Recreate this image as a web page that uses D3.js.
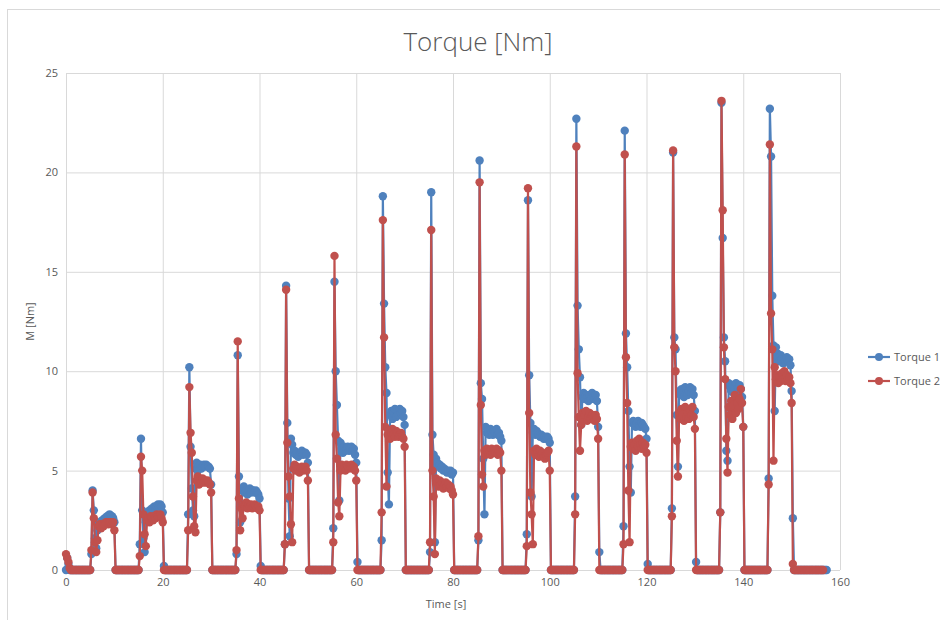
<!DOCTYPE html>
<html lang="en">
<head>
    <meta charset="UTF-8">
    <title>Torque [Nm]</title>
    <script src="https://d3js.org/d3.v7.min.js"></script>
    <style>
        body { margin: 0; background: #fff; }
        text { font-family: "Open Sans", sans-serif; fill: #595959; }
    </style>
</head>
<body>
    <div id="chart"></div>
    <script>
        // samples are 0.25 s apart, first sample at t = 0
        const sampleStep = 0.25;
        const seriesNames = ["Torque 1", "Torque 2"];
        const seriesColors = ["#4f81bd", "#c0504d"];
        const xTicks = [0, 20, 40, 60, 80, 100, 120, 140, 160];
        const yTicks = [0, 5, 10, 15, 20, 25];

        const torque1 = [
            0, 0.6, 0.3, 0, 0, 0, 0, 0, 0, 0, 0, 0, 0, 0, 0, 0, 0, 0, 0, 0, 0,
            0.8, 4.0, 3.0, 1.6, 1.1, 2.0, 2.3, 2.4, 2.3, 2.5, 2.5, 2.6, 2.6, 2.7, 2.7, 2.8, 2.7, 2.7, 2.6, 2.4,
            0, 0, 0, 0, 0, 0, 0, 0, 0, 0, 0, 0, 0, 0, 0, 0, 0, 0, 0, 0,
            1.3, 6.6, 3.0, 1.6, 0.9, 2.4, 2.9, 2.8, 3.0, 2.9, 3.1, 3.0, 3.2, 3.1, 3.2, 3.3, 3.2, 3.3, 3.2, 2.9,
            0.2, 0, 0, 0, 0, 0, 0, 0, 0, 0, 0, 0, 0, 0, 0, 0, 0, 0, 0, 0,
            2.8, 10.2, 6.2, 4.1, 3.0, 2.7, 5.1, 5.4, 5.0, 5.2, 5.3, 5.1, 5.2, 5.3, 5.2, 5.3, 5.2, 5.2, 5.1, 4.3,
            0, 0, 0, 0, 0, 0, 0, 0, 0, 0, 0, 0, 0, 0, 0, 0, 0, 0, 0, 0,
            0.8, 10.8, 4.7, 2.4, 3.3, 4.0, 4.2, 3.9, 4.0, 3.8, 4.0, 4.1, 3.9, 4.0, 4.0, 3.9, 4.0, 3.9, 3.8, 3.6,
            0.2, 0, 0, 0, 0, 0, 0, 0, 0, 0, 0, 0, 0, 0, 0, 0, 0, 0, 0, 0,
            1.3, 14.3, 7.4, 3.6, 1.7, 6.6, 6.3, 5.9, 6.0, 5.8, 5.9, 5.7, 5.8, 5.9, 6.0, 5.8, 5.9, 5.9, 5.8, 5.4,
            0, 0, 0, 0, 0, 0, 0, 0, 0, 0, 0, 0, 0, 0, 0, 0, 0, 0, 0, 0,
            2.1, 14.5, 10.0, 8.3, 6.5, 3.5, 6.4, 6.1, 5.9, 6.2, 6.0, 6.1, 6.2, 6.0, 6.1, 6.2, 6.0, 6.1, 5.8, 5.4,
            0.4, 0, 0, 0, 0, 0, 0, 0, 0, 0, 0, 0, 0, 0, 0, 0, 0, 0, 0, 0,
            1.5, 18.8, 13.4, 10.2, 8.9, 4.9, 3.3, 7.8, 8.0, 7.6, 7.9, 8.1, 7.7, 8.0, 7.8, 8.1, 7.9, 8.0, 7.7, 7.3,
            0, 0, 0, 0, 0, 0, 0, 0, 0, 0, 0, 0, 0, 0, 0, 0, 0, 0, 0, 0,
            0.9, 19.0, 6.8, 5.8, 1.4, 5.6, 5.4, 5.2, 5.3, 5.1, 5.2, 5.0, 5.1, 5.0, 4.9, 5.0, 4.9, 5.0, 4.8, 4.9,
            0, 0, 0, 0, 0, 0, 0, 0, 0, 0, 0, 0, 0, 0, 0, 0, 0, 0, 0, 0,
            1.5, 20.6, 9.4, 8.6, 5.6, 2.8, 7.2, 6.9, 7.0, 6.8, 7.1, 6.9, 6.8, 7.0, 6.9, 7.1, 6.8, 6.9, 6.7, 6.5,
            0, 0, 0, 0, 0, 0, 0, 0, 0, 0, 0, 0, 0, 0, 0, 0, 0, 0, 0, 0,
            1.8, 18.6, 9.8, 7.4, 3.7, 6.9, 7.1, 6.8, 7.0, 6.9, 6.8, 6.7, 6.8, 6.7, 6.6, 6.7, 6.6, 6.7, 6.6, 6.4,
            0, 0, 0, 0, 0, 0, 0, 0, 0, 0, 0, 0, 0, 0, 0, 0, 0, 0, 0, 0,
            3.7, 22.7, 13.3, 11.1, 9.7, 7.3, 8.7, 8.9, 8.6, 8.8, 8.7, 8.5, 8.8, 8.6, 8.9, 8.7, 8.6, 8.8, 8.5, 7.2,
            0.9, 0, 0, 0, 0, 0, 0, 0, 0, 0, 0, 0, 0, 0, 0, 0, 0, 0, 0, 0,
            2.2, 22.1, 11.9, 10.2, 8.0, 5.2, 3.9, 7.4, 7.5, 7.3, 7.2, 7.4, 7.5, 7.3, 7.2, 7.4, 7.3, 7.2, 7.1, 6.6,
            0.3, 0, 0, 0, 0, 0, 0, 0, 0, 0, 0, 0, 0, 0, 0, 0, 0, 0, 0, 0,
            3.1, 21.0, 11.7, 11.1, 7.8, 5.2, 9.0, 8.8, 9.1, 8.9, 8.7, 9.2, 8.9, 8.8, 9.0, 9.2, 8.9, 9.1, 8.8, 8.0,
            0.4, 0, 0, 0, 0, 0, 0, 0, 0, 0, 0, 0, 0, 0, 0, 0, 0, 0, 0, 0,
            2.9, 23.5, 16.7, 11.7, 10.5, 6.0, 5.5, 9.4, 9.2, 9.0, 9.3, 8.9, 9.1, 9.4, 9.0, 9.2, 9.3, 9.1, 8.7, 7.2,
            0, 0, 0, 0, 0, 0, 0, 0, 0, 0, 0, 0, 0, 0, 0, 0, 0, 0, 0, 0,
            4.6, 23.2, 20.8, 13.8, 11.3, 8.0, 11.2, 10.9, 10.7, 10.5, 10.8, 10.6, 10.4, 10.6, 10.5, 10.7, 10.5, 10.6, 10.3, 9.0,
            2.6, 0, 0, 0, 0, 0, 0, 0, 0, 0, 0, 0, 0, 0, 0, 0, 0, 0, 0, 0, 0, 0, 0, 0, 0, 0, 0, 0, 0
        ];

        const torque2 = [
            0.8, 0.6, 0.4, 0.1, 0, 0, 0, 0, 0, 0, 0, 0, 0, 0, 0, 0, 0, 0, 0, 0, 0,
            1.0, 3.9, 2.6, 1.4, 0.9, 1.5, 2.2, 2.3, 2.1, 2.3, 2.2, 2.3, 2.4, 2.4, 2.3, 2.4, 2.4, 2.3, 2.4, 2.0,
            0, 0, 0, 0, 0, 0, 0, 0, 0, 0, 0, 0, 0, 0, 0, 0, 0, 0, 0, 0,
            0.7, 5.7, 5.0, 2.8, 1.8, 1.2, 2.5, 2.6, 2.4, 2.7, 2.6, 2.5, 2.7, 2.6, 2.8, 2.7, 2.7, 2.8, 2.6, 2.4,
            0, 0, 0, 0, 0, 0, 0, 0, 0, 0, 0, 0, 0, 0, 0, 0, 0, 0, 0, 0,
            2.0, 9.2, 6.9, 5.9, 3.7, 2.2, 1.9, 4.5, 4.7, 4.3, 4.5, 4.4, 4.6, 4.4, 4.5, 4.4, 4.5, 4.4, 4.3, 3.9,
            0, 0, 0, 0, 0, 0, 0, 0, 0, 0, 0, 0, 0, 0, 0, 0, 0, 0, 0, 0,
            1.0, 11.5, 3.6, 2.0, 3.1, 2.6, 3.3, 3.2, 3.4, 3.1, 3.3, 3.2, 3.3, 3.1, 3.2, 3.3, 3.2, 3.1, 3.2, 3.0,
            0, 0, 0, 0, 0, 0, 0, 0, 0, 0, 0, 0, 0, 0, 0, 0, 0, 0, 0, 0,
            1.3, 14.1, 6.4, 4.7, 3.7, 2.3, 1.4, 5.1, 5.3, 5.0, 5.2, 5.1, 4.9, 5.1, 5.2, 5.0, 5.1, 5.2, 5.0, 4.5,
            0, 0, 0, 0, 0, 0, 0, 0, 0, 0, 0, 0, 0, 0, 0, 0, 0, 0, 0, 0,
            1.4, 15.8, 6.8, 5.6, 3.4, 2.7, 5.0, 5.3, 5.1, 5.2, 5.0, 5.3, 5.2, 5.1, 5.2, 5.3, 5.1, 5.2, 5.0, 4.5,
            0, 0, 0, 0, 0, 0, 0, 0, 0, 0, 0, 0, 0, 0, 0, 0, 0, 0, 0, 0,
            2.9, 17.6, 11.7, 7.2, 4.2, 6.8, 7.0, 6.6, 6.9, 7.1, 6.8, 6.7, 7.0, 6.9, 6.7, 6.8, 6.9, 6.7, 6.6, 6.2,
            0, 0, 0, 0, 0, 0, 0, 0, 0, 0, 0, 0, 0, 0, 0, 0, 0, 0, 0, 0,
            1.4, 17.1, 5.0, 3.7, 0.8, 4.6, 4.4, 4.2, 4.5, 4.3, 4.4, 4.1, 4.3, 4.4, 4.2, 4.3, 4.1, 4.2, 4.0, 3.8,
            0, 0, 0, 0, 0, 0, 0, 0, 0, 0, 0, 0, 0, 0, 0, 0, 0, 0, 0, 0,
            1.7, 19.5, 8.3, 4.8, 4.2, 6.0, 5.8, 6.1, 5.9, 6.0, 5.8, 6.1, 5.9, 6.0, 5.9, 6.1, 5.8, 6.0, 5.9, 5.0,
            0, 0, 0, 0, 0, 0, 0, 0, 0, 0, 0, 0, 0, 0, 0, 0, 0, 0, 0, 0,
            1.2, 19.2, 7.9, 3.9, 2.8, 1.3, 6.0, 5.8, 6.1, 5.9, 5.7, 6.0, 5.8, 5.9, 5.7, 5.6, 5.8, 5.9, 6.0, 5.0,
            0, 0, 0, 0, 0, 0, 0, 0, 0, 0, 0, 0, 0, 0, 0, 0, 0, 0, 0, 0,
            2.8, 21.3, 9.9, 7.7, 6.0, 7.3, 7.9, 7.6, 7.8, 8.0, 7.5, 7.7, 7.9, 7.6, 7.8, 7.7, 7.5, 7.8, 7.6, 6.6,
            0, 0, 0, 0, 0, 0, 0, 0, 0, 0, 0, 0, 0, 0, 0, 0, 0, 0, 0, 0,
            1.3, 20.9, 10.7, 8.4, 4.0, 1.4, 6.2, 6.4, 6.1, 6.3, 6.0, 6.5, 6.2, 6.6, 6.3, 6.1, 6.4, 6.2, 6.3, 5.9,
            0, 0, 0, 0, 0, 0, 0, 0, 0, 0, 0, 0, 0, 0, 0, 0, 0, 0, 0, 0,
            2.7, 21.1, 11.2, 10.0, 6.5, 4.7, 7.9, 7.6, 8.1, 7.8, 7.5, 8.2, 7.7, 7.9, 7.6, 8.0, 7.8, 8.2, 7.7, 7.1,
            0, 0, 0, 0, 0, 0, 0, 0, 0, 0, 0, 0, 0, 0, 0, 0, 0, 0, 0, 0,
            2.9, 23.6, 18.1, 11.2, 9.6, 6.6, 4.9, 8.2, 7.8, 8.5, 7.6, 8.3, 8.8, 7.9, 8.4, 8.1, 8.6, 9.1, 8.4, 7.2,
            0, 0, 0, 0, 0, 0, 0, 0, 0, 0, 0, 0, 0, 0, 0, 0, 0, 0, 0, 0,
            4.3, 21.4, 12.9, 11.1, 5.5, 10.2, 9.6, 9.8, 9.4, 9.7, 9.5, 9.9, 9.6, 10.0, 9.5, 9.8, 9.6, 9.7, 9.4, 8.4,
            0.3, 0, 0, 0, 0, 0, 0, 0, 0, 0, 0, 0, 0, 0, 0, 0, 0, 0, 0, 0, 0, 0, 0, 0, 0, 0
        ];

        const series = [torque1, torque2];

        const width = 940, height = 620;
        const plot = {left: 66, right: 840, top: 73, bottom: 570};

        const svg = d3.select("#chart")
            .append("svg")
            .attr("width", width)
            .attr("height", height);

        // chart frame
        svg.append("rect")
            .attr("x", 7.5).attr("y", 9.5)
            .attr("width", width).attr("height", height)
            .attr("fill", "#fff")
            .attr("stroke", "#d9d9d9");

        const x = d3.scaleLinear().domain([0, 160]).range([plot.left, plot.right]);
        const y = d3.scaleLinear().domain([0, 25]).range([plot.bottom, plot.top]);

        // gridlines
        svg.append("g")
            .attr("transform", `translate(0,${plot.bottom})`)
            .call(d3.axisBottom(x).tickValues(xTicks).tickSize(-(plot.bottom - plot.top)).tickFormat(""))
            .call(g => g.select(".domain").remove())
            .call(g => g.selectAll("line").attr("stroke", "#d9d9d9"));

        svg.append("g")
            .attr("transform", `translate(${plot.left},0)`)
            .call(d3.axisLeft(y).tickValues(yTicks).tickSize(-(plot.right - plot.left)).tickFormat(""))
            .call(g => g.select(".domain").remove())
            .call(g => g.selectAll("line").attr("stroke", "#d9d9d9"));

        // tick labels
        svg.append("g")
            .attr("transform", `translate(0,${plot.bottom + 8})`)
            .call(d3.axisBottom(x).tickValues(xTicks).tickSize(0).tickPadding(0))
            .call(g => g.select(".domain").remove())
            .call(g => g.selectAll("text").attr("font-size", 11).attr("fill", "#595959")
                .attr("font-family", "'Open Sans', sans-serif"));

        svg.append("g")
            .attr("transform", `translate(${plot.left - 8},0)`)
            .call(d3.axisLeft(y).tickValues(yTicks).tickSize(0).tickPadding(0))
            .call(g => g.select(".domain").remove())
            .call(g => g.selectAll("text").attr("font-size", 11).attr("fill", "#595959")
                .attr("font-family", "'Open Sans', sans-serif"));

        // titles
        svg.append("text")
            .attr("x", 478).attr("y", 51)
            .attr("text-anchor", "middle")
            .attr("font-size", 26)
            .attr("font-weight", 300)
            .text("Torque [Nm]");

        svg.append("text")
            .attr("x", 446).attr("y", 608)
            .attr("text-anchor", "middle")
            .attr("font-size", 11)
            .text("Time [s]");

        svg.append("text")
            .attr("transform", `translate(34,${(plot.top + plot.bottom) / 2}) rotate(-90)`)
            .attr("text-anchor", "middle")
            .attr("font-size", 11)
            .text("M [Nm]");

        // series
        const line = d3.line()
            .x((d, i) => x(i * sampleStep))
            .y(d => y(d));

        series.forEach((values, s) => {
            const g = svg.append("g");
            g.append("path")
                .datum(values)
                .attr("d", line)
                .attr("fill", "none")
                .attr("stroke", seriesColors[s])
                .attr("stroke-width", 2.2);
            g.selectAll("circle")
                .data(values)
                .join("circle")
                .attr("cx", (d, i) => x(i * sampleStep))
                .attr("cy", d => y(d))
                .attr("r", 4.2)
                .attr("fill", seriesColors[s]);
        });

        // legend
        const legend = svg.append("g")
            .selectAll("g")
            .data(seriesNames)
            .join("g")
            .attr("transform", (d, i) => `translate(868,${357 + i * 24})`);

        legend.append("line")
            .attr("x1", 0).attr("x2", 22)
            .attr("stroke", (d, i) => seriesColors[i])
            .attr("stroke-width", 2.2);
        legend.append("circle")
            .attr("cx", 11).attr("r", 4)
            .attr("fill", (d, i) => seriesColors[i]);
        legend.append("text")
            .attr("x", 26).attr("dy", "0.35em")
            .attr("font-size", 11)
            .text(d => d);
    </script>
</body>
</html>
